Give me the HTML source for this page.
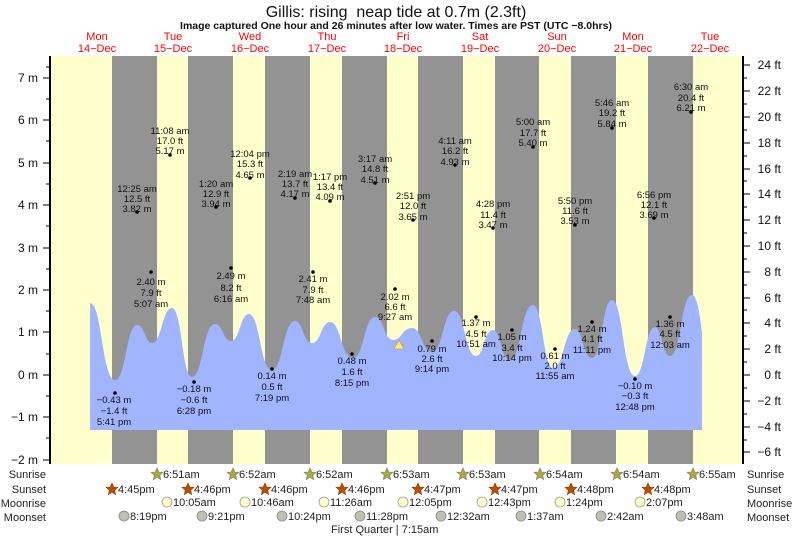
<!DOCTYPE html>
<html><head><meta charset="utf-8"><style>
html,body{margin:0;padding:0;background:#fff}
svg{display:block;font-family:"Liberation Sans",sans-serif}
.l{font-size:9.5px;fill:#111;text-anchor:middle}
.r{font-size:11px;fill:#222}
</style></head><body>
<svg width="793" height="537" viewBox="0 0 793 537" xmlns="http://www.w3.org/2000/svg">
<text x="396" y="17" font-size="16" text-anchor="middle" fill="#111">Gillis: rising &#160;neap tide at 0.7m (2.3ft)</text>
<text x="396" y="29" font-size="10.5" font-weight="bold" text-anchor="middle" fill="#111">Image captured One hour and 26 minutes after low water. Times are PST (UTC −8.0hrs)</text>
<g font-size="11" fill="#f00" text-anchor="middle">
<text x="97" y="40">Mon</text><text x="97" y="52">14−Dec</text>
<text x="173" y="40">Tue</text><text x="173" y="52">15−Dec</text>
<text x="250" y="40">Wed</text><text x="250" y="52">16−Dec</text>
<text x="327" y="40">Thu</text><text x="327" y="52">17−Dec</text>
<text x="403" y="40">Fri</text><text x="403" y="52">18−Dec</text>
<text x="480" y="40">Sat</text><text x="480" y="52">19−Dec</text>
<text x="557" y="40">Sun</text><text x="557" y="52">20−Dec</text>
<text x="633" y="40">Mon</text><text x="633" y="52">21−Dec</text>
<text x="710" y="40">Tue</text><text x="710" y="52">22−Dec</text>
</g>
<rect x="50" y="56" width="693" height="408" fill="#ffffcc"/>
<g fill="#939393">
<rect x="112" y="56" width="45" height="408"/><rect x="188" y="56" width="45" height="408"/>
<rect x="265" y="56" width="45" height="408"/><rect x="342" y="56" width="45" height="408"/>
<rect x="418" y="56" width="45" height="408"/><rect x="495" y="56" width="44" height="408"/>
<rect x="571" y="56" width="45" height="408"/><rect x="648" y="56" width="45" height="408"/>
</g>
<path fill="#a0b4ff" d="M90,430 L90,303 C102,303 102,380 115,380 C126,380 126,325 137,325 C145,325 145,343 152,343 C162,343 162,308 172,308 C182,308 182,377 192,377 C203,377 203,324 215,324 C223,324 223,341 231,341 C240,341 240,314 249,314 C260,314 260,370 272,370 C283,370 283,321 295,321 C303,321 303,343 312,343 C321,343 321,322 330,322 C341,322 341,358 353,358 C364,358 364,317 375,317 C384,317 384,340 393,340 C402,340 402,328 412,328 C422,328 422,352 432,352 C443,352 443,311 454,311 C465,311 465,356 476,356 C484,356 484,330 493,330 C501,330 501,360 510,360 C521,360 521,305 533,305 C543,305 543,368 553,368 C564,368 564,329 575,329 C583,329 583,358 592,358 C602,358 602,300 612,300 C623,300 623,376 635,376 C645,376 645,327 655,327 C662,327 662,356 670,356 C681,356 681,295 692,295 C697,295 700,315 702,333 L702,430 Z"/>
<line x1="50" y1="56" x2="50" y2="464" stroke="#000" stroke-width="2"/>
<line x1="743" y1="56" x2="743" y2="464" stroke="#000" stroke-width="2"/>
<g stroke="#000" stroke-width="1">
<path d="M43,78H50M43,120H50M43,163H50M43,205H50M43,248H50M43,290H50M43,332H50M43,375H50M43,417H50M43,460H50"/>
<path d="M46,99H50M46,141H50M46,184H50M46,226H50M46,269H50M46,311H50M46,354H50M46,396H50M46,438H50M46,67H50"/>
<path d="M743,65H750M743,91H750M743,117H750M743,143H750M743,169H750M743,194H750M743,220H750M743,246H750M743,272H750M743,298H750M743,323H750M743,349H750M743,375H750M743,401H750M743,427H750M743,452H750"/>
<path d="M743,78H747M743,104H747M743,130H747M743,156H747M743,181H747M743,207H747M743,233H747M743,259H747M743,285H747M743,310H747M743,336H747M743,362H747M743,388H747M743,414H747M743,440H747"/>
</g>
<g font-size="12" fill="#111" text-anchor="end">
<text x="38" y="82">7 m</text><text x="38" y="124">6 m</text><text x="38" y="167">5 m</text><text x="38" y="209">4 m</text><text x="38" y="252">3 m</text><text x="38" y="294">2 m</text><text x="38" y="336">1 m</text><text x="38" y="379">0 m</text><text x="38" y="421">−1 m</text><text x="38" y="464">−2 m</text>
</g>
<g font-size="12" fill="#111" text-anchor="end">
<text x="781" y="69">24 ft</text><text x="781" y="95">22 ft</text><text x="781" y="121">20 ft</text><text x="781" y="147">18 ft</text><text x="781" y="173">16 ft</text><text x="781" y="198">14 ft</text><text x="781" y="224">12 ft</text><text x="781" y="250">10 ft</text><text x="781" y="276">8 ft</text><text x="781" y="302">6 ft</text><text x="781" y="327">4 ft</text><text x="781" y="353">2 ft</text><text x="781" y="379">0 ft</text><text x="781" y="405">−2 ft</text><text x="781" y="431">−4 ft</text><text x="781" y="456">−6 ft</text>
</g>
<g fill="#000">
<circle cx="137" cy="212" r="1.8"/><circle cx="151" cy="272" r="1.8"/><circle cx="115" cy="393" r="1.8"/><circle cx="170" cy="155" r="1.8"/>
<circle cx="216" cy="207" r="1.8"/><circle cx="231" cy="268" r="1.8"/><circle cx="194" cy="382" r="1.8"/><circle cx="250" cy="178" r="1.8"/>
<circle cx="295" cy="198" r="1.8"/><circle cx="330" cy="201" r="1.8"/><circle cx="313" cy="272" r="1.8"/><circle cx="272" cy="369" r="1.8"/>
<circle cx="375" cy="183" r="1.8"/><circle cx="413" cy="220" r="1.8"/><circle cx="395" cy="289" r="1.8"/><circle cx="352" cy="354" r="1.8"/>
<circle cx="455" cy="165" r="1.8"/><circle cx="493" cy="228" r="1.8"/><circle cx="476" cy="317" r="1.8"/><circle cx="432" cy="341" r="1.8"/>
<circle cx="533" cy="147" r="1.8"/><circle cx="575" cy="225" r="1.8"/><circle cx="512" cy="330" r="1.8"/><circle cx="555" cy="349" r="1.8"/>
<circle cx="612" cy="128" r="1.8"/><circle cx="654" cy="218" r="1.8"/><circle cx="592" cy="322" r="1.8"/><circle cx="635" cy="379" r="1.8"/>
<circle cx="691" cy="112" r="1.8"/><circle cx="670" cy="317" r="1.8"/>
</g>
<g class="l">
<text x="137" y="192">12:25 am</text><text x="137" y="202">12.5 ft</text><text x="137" y="212">3.82 m</text>
<text x="151" y="285">2.40 m</text><text x="151" y="296">7.9 ft</text><text x="151" y="307">5:07 am</text>
<text x="114" y="403">−0.43 m</text><text x="114" y="414">−1.4 ft</text><text x="114" y="425">5:41 pm</text>
<text x="170" y="134">11:08 am</text><text x="170" y="144">17.0 ft</text><text x="170" y="154">5.17 m</text>
<text x="216" y="187">1:20 am</text><text x="216" y="197">12.9 ft</text><text x="216" y="207">3.94 m</text>
<text x="231" y="279">2.49 m</text><text x="231" y="291">8.2 ft</text><text x="231" y="302">6:16 am</text>
<text x="194" y="392">−0.18 m</text><text x="194" y="403">−0.6 ft</text><text x="194" y="414">6:28 pm</text>
<text x="250" y="157">12:04 pm</text><text x="250" y="167">15.3 ft</text><text x="250" y="178">4.65 m</text>
<text x="295" y="177">2:19 am</text><text x="295" y="187">13.7 ft</text><text x="295" y="197">4.17 m</text>
<text x="330" y="180">1:17 pm</text><text x="330" y="190">13.4 ft</text><text x="330" y="200">4.09 m</text>
<text x="313" y="282">2.41 m</text><text x="313" y="293">7.9 ft</text><text x="313" y="303">7:48 am</text>
<text x="272" y="379">0.14 m</text><text x="272" y="390">0.5 ft</text><text x="272" y="401">7:19 pm</text>
<text x="375" y="162">3:17 am</text><text x="375" y="172">14.8 ft</text><text x="375" y="183">4.51 m</text>
<text x="413" y="199">2:51 pm</text><text x="413" y="209">12.0 ft</text><text x="413" y="220">3.65 m</text>
<text x="395" y="300">2.02 m</text><text x="395" y="310">6.6 ft</text><text x="395" y="320">9:27 am</text>
<text x="352" y="364">0.48 m</text><text x="352" y="375">1.6 ft</text><text x="352" y="386">8:15 pm</text>
<text x="455" y="144">4:11 am</text><text x="455" y="154">16.2 ft</text><text x="455" y="165">4.93 m</text>
<text x="493" y="207">4:28 pm</text><text x="493" y="218">11.4 ft</text><text x="493" y="228">3.47 m</text>
<text x="476" y="326">1.37 m</text><text x="476" y="337">4.5 ft</text><text x="476" y="347">10:51 am</text>
<text x="432" y="352">0.79 m</text><text x="432" y="362">2.6 ft</text><text x="432" y="372">9:14 pm</text>
<text x="533" y="125">5:00 am</text><text x="533" y="136">17.7 ft</text><text x="533" y="146">5.40 m</text>
<text x="575" y="204">5:50 pm</text><text x="575" y="214">11.6 ft</text><text x="575" y="224">3.53 m</text>
<text x="512" y="340">1.05 m</text><text x="512" y="351">3.4 ft</text><text x="512" y="361">10:14 pm</text>
<text x="555" y="359">0.61 m</text><text x="555" y="369">2.0 ft</text><text x="555" y="379">11:55 am</text>
<text x="612" y="106">5:46 am</text><text x="612" y="116">19.2 ft</text><text x="612" y="127">5.84 m</text>
<text x="654" y="198">6:56 pm</text><text x="654" y="208">12.1 ft</text><text x="654" y="218">3.69 m</text>
<text x="592" y="332">1.24 m</text><text x="592" y="342">4.1 ft</text><text x="592" y="353">11:11 pm</text>
<text x="635" y="389">−0.10 m</text><text x="635" y="399">−0.3 ft</text><text x="635" y="410">12:48 pm</text>
<text x="691" y="90">6:30 am</text><text x="691" y="101">20.4 ft</text><text x="691" y="111">6.21 m</text>
<text x="670" y="327">1.36 m</text><text x="670" y="337">4.5 ft</text><text x="670" y="348">12:03 am</text>
</g>
<polygon points="394,349 399,340 404,349" fill="#ffee55" stroke="#999" stroke-width="0.6"/>
<g class="r" text-anchor="end">
<text x="46" y="478">Sunrise</text><text x="46" y="493">Sunset</text><text x="46" y="507">Moonrise</text><text x="46" y="521">Moonset</text>
</g>
<g class="r">
<text x="747" y="478">Sunrise</text><text x="747" y="493">Sunset</text><text x="747" y="507">Moonrise</text><text x="747" y="521">Moonset</text>
</g>
<defs>
<polygon id="st" points="0,-6 1.8,-2 6,-1.8 2.8,1.2 3.6,5.6 0,3.3 -3.6,5.6 -2.8,1.2 -6,-1.8 -1.8,-2"/>
</defs>
<g fill="#b0a83a" stroke="#777" stroke-width="0.6">
<use href="#st" x="157" y="474"/><use href="#st" x="233" y="474"/><use href="#st" x="310" y="474"/><use href="#st" x="387" y="474"/>
<use href="#st" x="463" y="474"/><use href="#st" x="540" y="474"/><use href="#st" x="617" y="474"/><use href="#st" x="693" y="474"/>
</g>
<g fill="#b85000" stroke="#8a3a00" stroke-width="0.6">
<use href="#st" x="112" y="489"/><use href="#st" x="188" y="489"/><use href="#st" x="265" y="489"/><use href="#st" x="342" y="489"/>
<use href="#st" x="418" y="489"/><use href="#st" x="495" y="489"/><use href="#st" x="571" y="489"/><use href="#st" x="648" y="489"/>
</g>
<g class="r" font-size="10">
<text x="163" y="478">6:51am</text><text x="239" y="478">6:52am</text><text x="316" y="478">6:52am</text><text x="393" y="478">6:53am</text>
<text x="469" y="478">6:53am</text><text x="546" y="478">6:54am</text><text x="623" y="478">6:54am</text><text x="699" y="478">6:55am</text>
<text x="118" y="493">4:45pm</text><text x="194" y="493">4:46pm</text><text x="271" y="493">4:46pm</text><text x="348" y="493">4:46pm</text>
<text x="424" y="493">4:47pm</text><text x="501" y="493">4:47pm</text><text x="577" y="493">4:48pm</text><text x="654" y="493">4:48pm</text>
</g>
<g fill="#ffffc8" stroke="#999" stroke-width="0.8">
<circle cx="167" cy="502" r="5"/><circle cx="245" cy="502" r="5"/><circle cx="324" cy="502" r="5"/><circle cx="403" cy="502" r="5"/>
<circle cx="482" cy="502" r="5"/><circle cx="560" cy="502" r="5"/><circle cx="640" cy="502" r="5"/>
</g>
<g fill="#c0c0b0" stroke="#888" stroke-width="0.8">
<circle cx="124" cy="516" r="5"/><circle cx="202" cy="516" r="5"/><circle cx="282" cy="516" r="5"/><circle cx="360" cy="516" r="5"/>
<circle cx="441" cy="516" r="5"/><circle cx="521" cy="516" r="5"/><circle cx="601" cy="516" r="5"/><circle cx="681" cy="516" r="5"/>
</g>
<g class="r" font-size="10">
<text x="173" y="506">10:05am</text><text x="251" y="506">10:46am</text><text x="330" y="506">11:26am</text><text x="409" y="506">12:05pm</text>
<text x="488" y="506">12:43pm</text><text x="566" y="506">1:24pm</text><text x="646" y="506">2:07pm</text>
<text x="130" y="520">8:19pm</text><text x="208" y="520">9:21pm</text><text x="288" y="520">10:24pm</text><text x="366" y="520">11:28pm</text>
<text x="447" y="520">12:32am</text><text x="527" y="520">1:37am</text><text x="607" y="520">2:42am</text><text x="687" y="520">3:48am</text>
<text x="331" y="533">First Quarter | 7:15am</text>
</g>
</svg>
</body></html>
